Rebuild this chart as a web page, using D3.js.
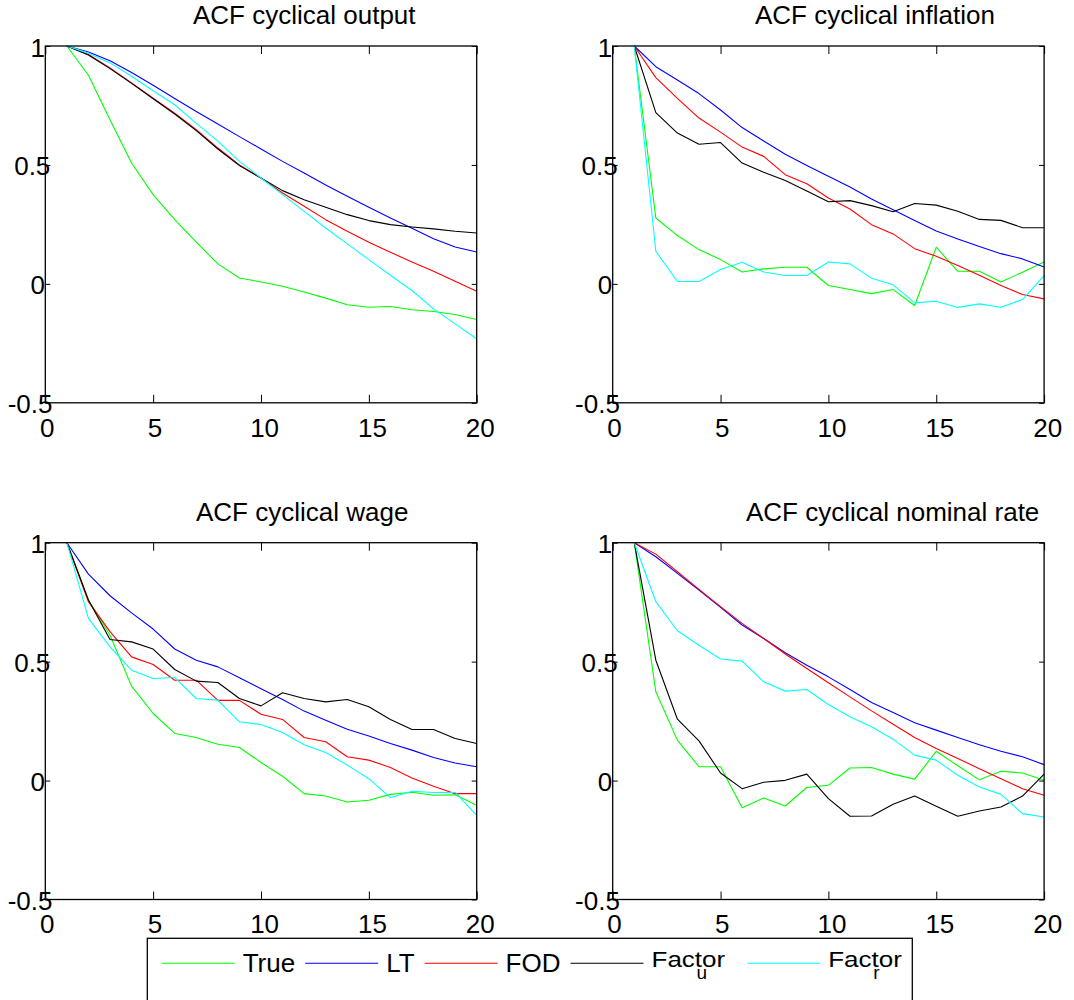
<!DOCTYPE html>
<html>
<head>
<meta charset="utf-8">
<script src="https://cdn.jsdelivr.net/npm/d3@7"></script>
<style>
  body { margin: 0; background: #fff; }
  svg { display: block; font-family: "Liberation Sans", Arial, Helvetica, sans-serif; }
</style>
</head>
<body>
<svg id="chart" width="1074" height="1000"></svg>
<script>
// lags on the x axis
const lags = [1, 2, 3, 4, 5, 6, 7, 8, 9, 10, 11, 12, 13, 14, 15, 16, 17, 18, 19, 20];
const xTicks = [0, 5, 10, 15, 20];
const yTicks = [-0.5, 0, 0.5, 1];

const seriesNames = ['True', 'LT', 'FOD', 'Factor', 'Factor'];
const seriesSubs = ['', '', '', 'u', 'r'];
const seriesColors = ['#00ff00', '#0000ff', '#ff0000', '#000000', '#00ffff'];

const titles = ['ACF cyclical output', 'ACF cyclical inflation', 'ACF cyclical wage', 'ACF cyclical nominal rate'];

// ACF cyclical output
const outputTrue = [1, 0.877, 0.69, 0.508, 0.375, 0.27, 0.175, 0.084, 0.025, 0.008, -0.01, -0.034, -0.06, -0.088, -0.098, -0.095, -0.109, -0.116, -0.129, -0.15];
const outputLT = [1, 0.975, 0.938, 0.889, 0.835, 0.779, 0.725, 0.672, 0.619, 0.567, 0.515, 0.466, 0.416, 0.368, 0.322, 0.277, 0.234, 0.19, 0.155, 0.134];
const outputFOD = [1, 0.964, 0.908, 0.845, 0.781, 0.718, 0.648, 0.571, 0.5, 0.445, 0.382, 0.326, 0.27, 0.221, 0.175, 0.133, 0.092, 0.053, 0.011, -0.031];
const outputFu = [1, 0.962, 0.905, 0.843, 0.778, 0.714, 0.644, 0.567, 0.497, 0.445, 0.392, 0.354, 0.322, 0.291, 0.266, 0.249, 0.239, 0.231, 0.221, 0.214];
const outputFr = [1, 0.97, 0.929, 0.873, 0.812, 0.753, 0.675, 0.6, 0.515, 0.445, 0.375, 0.305, 0.235, 0.168, 0.102, 0.036, -0.028, -0.105, -0.168, -0.231];

// ACF cyclical inflation
const inflTrue = [1, 0.277, 0.203, 0.144, 0.102, 0.05, 0.063, 0.07, 0.07, -0.007, -0.024, -0.041, -0.024, -0.091, 0.154, 0.053, 0.053, 0.008, 0.049, 0.092];
const inflLT = [1, 0.913, 0.857, 0.8, 0.731, 0.657, 0.601, 0.545, 0.498, 0.452, 0.407, 0.357, 0.312, 0.266, 0.222, 0.189, 0.157, 0.127, 0.105, 0.071];
const inflFOD = [1, 0.867, 0.78, 0.697, 0.638, 0.575, 0.536, 0.459, 0.421, 0.361, 0.315, 0.249, 0.21, 0.148, 0.116, 0.077, 0.036, -0.007, -0.045, -0.063];
const inflFu = [1, 0.72, 0.634, 0.587, 0.594, 0.508, 0.469, 0.435, 0.39, 0.345, 0.35, 0.329, 0.303, 0.338, 0.331, 0.305, 0.271, 0.267, 0.236, 0.236];
const inflFr = [1, 0.137, 0.01, 0.01, 0.06, 0.091, 0.05, 0.035, 0.035, 0.092, 0.084, 0.024, -0.004, -0.08, -0.073, -0.099, -0.084, -0.098, -0.066, 0.035];

// ACF cyclical wage
const wageTrue = [1, 0.759, 0.611, 0.397, 0.282, 0.198, 0.181, 0.153, 0.139, 0.076, 0.018, -0.055, -0.065, -0.09, -0.083, -0.058, -0.049, -0.062, -0.06, -0.104];
const wageLT = [1, 0.868, 0.777, 0.705, 0.637, 0.553, 0.506, 0.478, 0.432, 0.386, 0.341, 0.292, 0.254, 0.216, 0.187, 0.156, 0.128, 0.097, 0.074, 0.058];
const wageFOD = [1, 0.752, 0.626, 0.52, 0.488, 0.422, 0.422, 0.337, 0.337, 0.279, 0.257, 0.181, 0.163, 0.1, 0.086, 0.055, 0.011, -0.024, -0.055, -0.055];
const wageFu = [1, 0.759, 0.593, 0.583, 0.553, 0.467, 0.418, 0.412, 0.345, 0.314, 0.369, 0.345, 0.331, 0.341, 0.31, 0.257, 0.215, 0.215, 0.177, 0.156];
const wageFr = [1, 0.682, 0.562, 0.464, 0.429, 0.433, 0.345, 0.338, 0.247, 0.236, 0.202, 0.151, 0.118, 0.065, 0.008, -0.072, -0.045, -0.05, -0.05, -0.146];

// ACF cyclical nominal rate
const rateTrue = [1, 0.373, 0.17, 0.058, 0.058, -0.114, -0.073, -0.107, -0.029, -0.02, 0.053, 0.055, 0.027, 0.006, 0.123, 0.062, 0.003, 0.039, 0.032, 0.001];
const rateLT = [1, 0.941, 0.871, 0.801, 0.728, 0.654, 0.597, 0.537, 0.485, 0.436, 0.383, 0.328, 0.286, 0.243, 0.212, 0.181, 0.151, 0.123, 0.1, 0.067];
const rateFOD = [1, 0.952, 0.878, 0.804, 0.731, 0.661, 0.597, 0.532, 0.471, 0.411, 0.352, 0.293, 0.237, 0.181, 0.135, 0.093, 0.05, 0.008, -0.034, -0.062];
const rateFu = [1, 0.506, 0.258, 0.167, 0.032, -0.034, -0.007, 0.001, 0.027, -0.076, -0.15, -0.149, -0.1, -0.065, -0.108, -0.15, -0.128, -0.111, -0.065, 0.027];
const rateFr = [1, 0.752, 0.63, 0.569, 0.511, 0.502, 0.415, 0.376, 0.383, 0.32, 0.268, 0.226, 0.174, 0.107, 0.086, 0.022, -0.027, -0.058, -0.139, -0.153];

const panelSeries = [
  [outputTrue, outputLT, outputFOD, outputFu, outputFr],
  [inflTrue, inflLT, inflFOD, inflFu, inflFr],
  [wageTrue, wageLT, wageFOD, wageFu, wageFr],
  [rateTrue, rateLT, rateFOD, rateFu, rateFr]
];

// Layout of the 2x2 grid
const colX = [45.3, 612.7];
const rowY = [46, 542.7];
const plotW = 431.4, plotH = 356.8;
const titleX = [193, 755, 196, 746];
const titleDy = -22;
const fontSize = 26;

const svg = d3.select('svg#chart');
svg.append('rect').attr('width', 1074).attr('height', 1000).attr('fill', '#fff');

const x = d3.scaleLinear().domain([0, 20]).range([0, plotW]);
const y = d3.scaleLinear().domain([-0.5, 1]).range([plotH, 0]);
const line = d3.line()
  .x((d, i) => x(lags[i]))
  .y(d => y(d));

panelSeries.forEach((series, p) => {
  const g = svg.append('g')
    .attr('transform', `translate(${colX[p % 2]},${rowY[Math.floor(p / 2)]})`);

  // lines, in plot order
  series.forEach((vals, s) => {
    g.append('path')
      .attr('d', line(vals))
      .attr('fill', 'none')
      .attr('stroke', seriesColors[s])
      .attr('stroke-width', 1.1)
      .attr('stroke-linejoin', 'round');
  });

  // inward ticks on all four sides
  const tickStyle = sel => {
    sel.select('.domain').remove();
    sel.selectAll('line').attr('stroke', '#000').attr('stroke-width', 1);
  };
  g.append('g').call(d3.axisBottom(x).tickValues(xTicks).tickSizeInner(-8).tickSizeOuter(0).tickFormat(''))
    .attr('transform', `translate(0,${plotH})`).call(tickStyle);
  g.append('g').call(d3.axisTop(x).tickValues(xTicks).tickSizeInner(-8).tickSizeOuter(0).tickFormat(''))
    .call(tickStyle);
  g.append('g').call(d3.axisLeft(y).tickValues(yTicks).tickSizeInner(-5).tickSizeOuter(0).tickFormat(''))
    .call(tickStyle);
  g.append('g').call(d3.axisRight(y).tickValues(yTicks).tickSizeInner(-5).tickSizeOuter(0).tickFormat(''))
    .attr('transform', `translate(${plotW},0)`).call(tickStyle);

  g.append('rect')
    .attr('width', plotW).attr('height', plotH)
    .attr('fill', 'none').attr('stroke', '#000').attr('stroke-width', 1.3);

  // tick labels
  g.selectAll('text.xl').data(xTicks).join('text')
    .attr('class', 'xl')
    .attr('y', plotH + 34)
    .attr('text-anchor', 'middle')
    .attr('font-size', fontSize)
    .text(d => d)
    .attr('x', function (d) { return x(d) + 0.125 * this.getComputedTextLength(); });

  g.selectAll('text.yl').data(yTicks).join('text')
    .attr('class', 'yl')
    .attr('y', d => y(d) + 10.5)
    .attr('font-size', fontSize)
    .text(d => d)
    .attr('x', function () { return -4 - 0.75 * this.getComputedTextLength(); });

  svg.append('text')
    .attr('x', titleX[p])
    .attr('y', rowY[Math.floor(p / 2)] + titleDy)
    .attr('font-size', fontSize)
    .text(titles[p]);
});

// legend
const legend = svg.append('g');
legend.append('rect')
  .attr('x', 147.3).attr('y', 938.3)
  .attr('width', 765).attr('height', 90)
  .attr('fill', '#fff').attr('stroke', '#000').attr('stroke-width', 1.3);

let lx = 161.7;
const ly = 963.3;
seriesNames.forEach((name, i) => {
  legend.append('line')
    .attr('x1', lx).attr('x2', lx + 73)
    .attr('y1', ly).attr('y2', ly)
    .attr('stroke', seriesColors[i]).attr('stroke-width', 1.1);
  const tx = lx + 81;
  let w;
  if (seriesSubs[i]) {
    const t = legend.append('text')
      .attr('transform', `translate(${tx},${ly + 4}) scale(1,0.82)`)
      .attr('font-size', fontSize)
      .text(name);
    w = t.node().getComputedTextLength();
    legend.append('text')
      .attr('x', tx + 45).attr('y', ly + 16)
      .attr('font-size', 19)
      .text(seriesSubs[i]);
    w += 12;
  } else {
    const t = legend.append('text')
      .attr('x', tx).attr('y', ly + 9)
      .attr('font-size', fontSize)
      .text(name);
    w = t.node().getComputedTextLength();
  }
  lx = tx + w + 10;
});
</script>
</body>
</html>
